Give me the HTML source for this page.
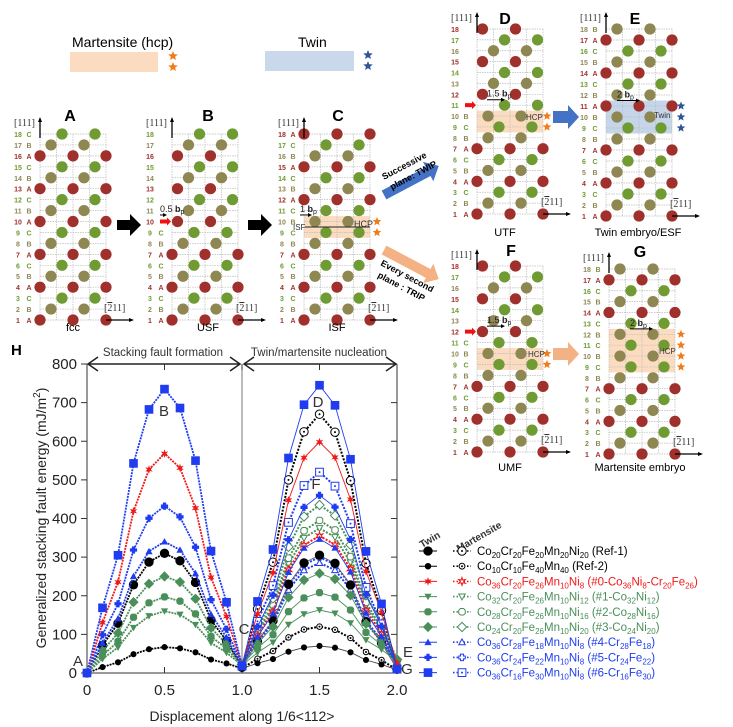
<!DOCTYPE html>
<html><head><meta charset="utf-8"><style>
html,body{margin:0;padding:0;background:#fff}
svg{display:block;font-family:"Liberation Sans",sans-serif}
</style></head><body>
<svg id="s" width="733" height="727" viewBox="0 0 733 727" xmlns="http://www.w3.org/2000/svg"></svg>
<script>
var S=document.getElementById('s'),o='';
function t(x,y,s,sz,c,extra){o+='<text x="'+x+'" y="'+y+'" font-size="'+sz+'" fill="'+(c||'#000')+'" '+(extra||'')+'>'+s+'</text>';}
function star(x,y,r,c){var p=[];for(var i=0;i<10;i++){var a=-Math.PI/2+i*Math.PI/5,rr=i%2?r*0.45:r;p.push((x+rr*Math.cos(a)).toFixed(1)+','+(y+rr*Math.sin(a)).toFixed(1));}o+='<polygon points="'+p.join(' ')+'" fill="'+c+'"/>';}
t(72,47,'Martensite (hcp)',14);o+='<rect x="70" y="52" width="88" height="20" fill="#fbdcc1"/>';star(173,56,5,'#f07c1a');star(173,67,5,'#f07c1a');
t(298,47,'Twin',14);o+='<rect x="265" y="51" width="89" height="20" fill="#c9d8ea"/>';star(368,55,5,'#2f5597');star(368,66,5,'#2f5597');
var COL=['#a0302c','#8e8752','#6f9b32'];
function panel(gx,y1,y18,labels,offs,title,tx,ty,cap,cx,cy,band,bc,nst,stc,stx,arrowRow,bp,bpx){
 var sp=(y1-y18)/17,u=11;
 if(band){o+='<rect x="'+gx+'" y="'+(y1-(band[1]-1)*sp-sp/2)+'" width="66" height="'+((band[1]-band[0]+1)*sp)+'" fill="'+bc+'"/>';}
 for(var r=0;r<18;r++){var y=y1-r*sp;o+='<line x1="'+gx+'" x2="'+(gx+66)+'" y1="'+y+'" y2="'+y+'" stroke="#bbb" stroke-width="0.7" stroke-dasharray="1.5,1"/>';}
 for(var k=0;k<=4;k++){var x=gx+k*16.5;o+='<line x1="'+x+'" x2="'+x+'" y1="'+y18+'" y2="'+y1+'" stroke="#bbb" stroke-width="0.7" stroke-dasharray="1.5,1"/>';}
 for(r=1;r<=18;r++){var y=y1-(r-1)*sp,of=offs(r),ci=Math.floor(of)%3;
  var lab=labels[r-1];var lc=lab&&lab!='-'?COL['ABC'.indexOf(lab)]:COL[ci];
  t(gx-22,y+3,r,7,lc,'font-weight="bold" text-anchor="middle"');
  if(lab&&lab!='-')t(gx-11,y+3,lab,7,lc,'font-weight="bold" text-anchor="middle"');
  for(var k=0;k<3;k++){var ox=of+3*k;if(ox>6.01)continue;o+='<circle cx="'+(gx+ox*u)+'" cy="'+y+'" r="5.6" fill="'+COL[ci]+'"/>';}}
 t(tx,ty,title,16,'#000','font-weight="bold" text-anchor="middle"');
 t(cx,cy,cap,11,'#000','text-anchor="middle"');
 t(gx-26,y18-8,'[111]',10,'#333','font-family="Liberation Serif"');
 o+='<line x1="'+gx+'" y1="'+(y18+4)+'" x2="'+gx+'" y2="'+(y18-15)+'" stroke="#000" stroke-width="1.3"/><polygon points="'+(gx-2)+','+(y18-12)+' '+(gx+2)+','+(y18-12)+' '+gx+','+(y18-17)+'" fill="#000"/>';
 t(gx+64,y1-9,'[<tspan text-decoration="overline">2</tspan>11]',10,'#333','font-family="Liberation Serif"');
 o+='<line x1="'+(gx+66)+'" y1="'+y1+'" x2="'+(gx+92)+'" y2="'+y1+'" stroke="#000" stroke-width="1.2"/><polygon points="'+(gx+89)+','+(y1-2)+' '+(gx+89)+','+(y1+2)+' '+(gx+94)+','+y1+'" fill="#000"/>';
 if(nst){for(var i=0;i<nst;i++)star(stx,y1-(band[0]-1)*sp-i*sp*(band[1]-band[0])/(nst-1),4.5,stc);}
 if(arrowRow){var ay=y1-(arrowRow-1)*sp;o+='<polygon points="'+(gx-12)+','+(ay-2)+' '+(gx-5)+','+(ay-2)+' '+(gx-5)+','+(ay-4)+' '+(gx-1)+','+ay+' '+(gx-5)+','+(ay+4)+' '+(gx-5)+','+(ay+2)+' '+(gx-12)+','+(ay+2)+'" fill="#f01010"/>';}
 if(bp){var by=y1-(bp[0]-1)*sp;t(bpx,by-3,bp[1]+' <tspan font-weight="bold">b</tspan><tspan font-size="7" dy="2">p</tspan>',9,'#222');o+='<line x1="'+(bpx)+'" y1="'+by+'" x2="'+(bpx+bp[2])+'" y2="'+by+'" stroke="#000" stroke-width="1"/><polygon points="'+(bpx+bp[2]-3)+','+(by-2)+' '+(bpx+bp[2]-3)+','+(by+2)+' '+(bpx+bp[2]+1)+','+by+'" fill="#000"/>';}
}
var ABC='ABCABCABCABCABCABC'.split('');
function std(r){return (r-1)%3;}
function fromLab(L){return function(r){return 'ABC'.indexOf(L[r-1]);};}
panel(40,320,134,ABC,std,'A',70,121,'fcc',73,331);
panel(172,320,134,'ABCABCABC---------'.split(''),function(r){return r>=10?((r-10)%3)+0.5:std(r);},'B',208,121,'USF',208,331,null,null,0,null,0,10,[10.6,'0.5',6],160);
var Cl='ABCABCABCBCABCABCA'.split('');
panel(304,320,134,Cl,fromLab(Cl),'C',338,121,'ISF',337,331,[9,10],'#fbdcc1',2,'#f07c1a',377,0,[10.6,'1',11],300);
t(293,230,'ISF',8,'#333');t(354,227,'HCP',9,'#333');o+='<line x1="305" y1="227" x2="370" y2="227" stroke="#222" stroke-width="1"/>';
panel(477,214,29,'ABCABCABCB--------'.split(''),function(r){return r>=11?(r==11?2.5:((r-12)%3)+0.5):fromLab('ABCABCABCB')(r);},'D',505,24,'UTF',505,236,[9,10],'#fbdcc1',2,'#f07c1a',547,11,[11.5,'1.5',17],487);
t(526,120,'HCP',8,'#333');
var El='ABCABCABCBABCABCAB'.split('');
panel(606,216,29,El,fromLab(El),'E',635,24,'Twin embryo/ESF',638,236,[9,11],'#c5d6ea',3,'#2f5597',681,0,[11.5,'2',22],617);
t(654,118,'Twin',8,'#333');
panel(477,452,266,'ABCABCABCBC-------'.split(''),function(r){return r>=12?((r-12)%3)+0.5:fromLab('ABCABCABCBC')(r);},'F',511,256,'UMF',510,471,[9,10],'#fbdcc1',2,'#f07c1a',547,12,[12.5,'1.5',17],487);
t(528,357,'HCP',8,'#333');
var Gl='ABCABCABCBCBCABCAB'.split('');
panel(609,454,269,Gl,fromLab(Gl),'G',640,257,'Martensite embryo',640,471,[9,12],'#fbdcc1',4,'#f07c1a',681,0,[12.5,'2',22],630);
t(659,354,'HCP',8,'#333');
function barrow(x,y){o+='<polygon points="'+x+','+(y-5)+' '+(x+13)+','+(y-5)+' '+(x+13)+','+(y-11)+' '+(x+24)+','+y+' '+(x+13)+','+(y+11)+' '+(x+13)+','+(y+5)+' '+x+','+(y+5)+'" fill="#000"/>';}
barrow(117,225);barrow(248,225);
function carrow(x,y,c){o+='<polygon points="'+x+','+(y-6)+' '+(x+15)+','+(y-6)+' '+(x+15)+','+(y-12)+' '+(x+26)+','+y+' '+(x+15)+','+(y+12)+' '+(x+15)+','+(y+6)+' '+x+','+(y+6)+'" fill="'+c+'"/>';}
carrow(553,117,'#4472c4');carrow(553,354,'#f4b183');
o+='<g transform="translate(384,195) rotate(-28)"><polygon points="0,-5 50,-5 50,-11 62,0 50,11 50,5 0,5" fill="#4472c4"/></g>';
o+='<g transform="translate(384,250) rotate(28)"><polygon points="0,-5 50,-5 50,-11 62,0 50,11 50,5 0,5" fill="#f4b183"/></g>';
t(0,0,'Successive',9,'#000','font-weight="bold" transform="translate(384,180) rotate(-28)"');
t(0,0,'plane: TWIP',9,'#000','font-weight="bold" transform="translate(392,190) rotate(-28)"');
t(0,0,'Every second',9,'#000','font-weight="bold" transform="translate(380,265) rotate(28)"');
t(0,0,'plane : TRIP',9,'#000','font-weight="bold" transform="translate(377,277) rotate(28)"');
function px(x){return 87+155*x;}function py(v){return 673-v*0.38625;}
t(11,355,'H',15,'#000','font-weight="bold"');
o+='<line x1="87" y1="364" x2="87" y2="673" stroke="#333" stroke-width="1"/><line x1="397" y1="364" x2="397" y2="673" stroke="#333" stroke-width="1"/><line x1="87" y1="673" x2="397" y2="673" stroke="#333"/><line x1="242" y1="364" x2="242" y2="673" stroke="#555" stroke-width="0.8"/>';
for(var v=0;v<=800;v+=100){var y=py(v);o+='<line x1="81" x2="87" y1="'+y+'" y2="'+y+'" stroke="#333"/><line x1="391" x2="397" y1="'+y+'" y2="'+y+'" stroke="#333"/>';t(77,y+5,v,15,'#222','text-anchor="end"');}
[[0,'0'],[0.5,'0.5'],[1,'1.0'],[1.5,'1.5'],[2,'2.0']].forEach(function(a){var x=px(a[0]);o+='<line x1="'+x+'" x2="'+x+'" y1="673" y2="667" stroke="#333"/><line x1="'+x+'" x2="'+x+'" y1="364" y2="370" stroke="#333"/>';t(x,695,a[1],15,'#222','text-anchor="middle"');});
t(242,721,'Displacement along 1/6&lt;112&gt;',14,'#222','text-anchor="middle"');
t(0,0,'Generalized stacking fault energy (mJ/m<tspan dy="-6" font-size="10">2</tspan><tspan dy="6">)</tspan>',14,'#222','text-anchor="middle" transform="translate(46,518) rotate(-90)"');
o+='<line x1="88" y1="364" x2="240" y2="364" stroke="#222" stroke-width="1.5"/><line x1="244" y1="364" x2="396" y2="364" stroke="#222" stroke-width="1.5"/>';
o+='<polyline points="98,357 88,364 98,371" fill="none" stroke="#222" stroke-width="1.5"/><polyline points="230,357 240,364 230,371" fill="none" stroke="#222" stroke-width="1.5"/><polyline points="254,357 244,364 254,371" fill="none" stroke="#222" stroke-width="1.5"/><polyline points="386,357 396,364 386,371" fill="none" stroke="#222" stroke-width="1.5"/>';
t(163,356,'Stacking fault formation',11.5,'#333','text-anchor="middle"');t(319,356,'Twin/martensite nucleation',11.5,'#333','text-anchor="middle"');
function mk(type,x,y,c,open,sz){sz=sz||1;var f=open?'#fff':c,st=open?' stroke="'+c+'" stroke-width="1"':'';var r=3.6*sz;
 if(type=='o')return '<circle cx="'+x+'" cy="'+y+'" r="'+r+'" fill="'+f+'"'+st+'/>'+(open?'<circle cx="'+x+'" cy="'+y+'" r="1" fill="'+c+'"/>':'');
 if(type=='s')return '<rect x="'+(x-r)+'" y="'+(y-r)+'" width="'+2*r+'" height="'+2*r+'" fill="'+f+'"'+st+'/>'+(open?'<circle cx="'+x+'" cy="'+y+'" r="1" fill="'+c+'"/>':'');
 if(type=='d')return '<polygon points="'+x+','+(y-r*1.3)+' '+(x+r*1.3)+','+y+' '+x+','+(y+r*1.3)+' '+(x-r*1.3)+','+y+'" fill="'+f+'"'+st+'/>';
 if(type=='v')return '<polygon points="'+(x-r)+','+(y-r*0.8)+' '+(x+r)+','+(y-r*0.8)+' '+x+','+(y+r)+'" fill="'+f+'"'+st+'/>';
 if(type=='^')return '<polygon points="'+(x-r)+','+(y+r*0.8)+' '+(x+r)+','+(y+r*0.8)+' '+x+','+(y-r)+'" fill="'+f+'"'+st+'/>';
 if(type=='x')return '<polygon points="'+(x-r*0.5)+','+(y-r)+' '+(x+r*0.5)+','+(y-r)+' '+(x+r)+','+(y-r*0.5)+' '+(x+r)+','+(y+r*0.5)+' '+(x+r*0.5)+','+(y+r)+' '+(x-r*0.5)+','+(y+r)+' '+(x-r)+','+(y+r*0.5)+' '+(x-r)+','+(y-r*0.5)+'" fill="'+f+'"'+st+'/>';
 if(type=='+')return '<path d="M'+(x-r*0.45)+','+(y-r)+'h'+r*0.9+'v'+r*0.55+'h'+r*0.55+'v'+r*0.9+'h-'+r*0.55+'v'+r*0.55+'h-'+r*0.9+'v-'+r*0.55+'h-'+r*0.55+'v-'+r*0.9+'h'+r*0.55+'z" fill="'+f+'"'+st+'/>';
 if(type=='*'){var p=[];for(var i=0;i<12;i++){var a=-Math.PI/2+i*Math.PI/6,rr=i%2?r*0.5:r*1.2;p.push((x+rr*Math.cos(a)).toFixed(1)+','+(y+rr*Math.sin(a)).toFixed(1));}return '<polygon points="'+p.join(' ')+'" fill="'+f+'"'+st+'/>';}
}
var R=[0,.23,.415,.74,.93,1,.93,.74,.415,.23,0];
function curve(x0,s,e,P){var pts=[];for(var i=0;i<=10;i++){var tt=i/10,b=s+(e-s)*tt;pts.push([x0+tt,b+(P-(s+e)/2)*R[i]]);}return pts;}
function draw(pts,c,type,dash,w,open,sz,lc){o+='<polyline points="'+pts.map(function(p){return px(p[0]).toFixed(1)+','+py(p[1]).toFixed(1);}).join(' ')+'" fill="none" stroke="'+(lc||c)+'" stroke-width="'+w+'" '+(dash?'stroke-dasharray="'+dash+'"':'')+'/>';pts.forEach(function(p){o+=mk(type,px(p[0]),py(p[1]),c,open,sz);});}
var G='#4a8f5a',B='#1f3cf0',Rd='#f01818';
var ser=[
 ['#000','o',310,305,670,1.3,15,10,'#666'],
 ['#000','o',67,70,120,0.85,12,8,'#444'],
 [G,'v',160,163,375,1,20,30],
 [G,'x',197,208,395,1,22,32],
 [G,'d',250,258,435,1.1,22,35],
 [B,'^',340,347,285,1,18,20],
 [B,'+',432,460,300,1,18,20],
 [Rd,'*',568,598,355,1,20,25],
 [B,'s',735,745,520,1.2,18,10]
];
ser.forEach(function(s){draw(curve(1,s[6],s[7],s[4]),s[0],s[1],'2,1.5',2,true,s[5]*0.9);});
ser.forEach(function(s){draw(curve(0,0,s[6],s[2]),s[0],s[1],'2,1',1.8,false,s[5]);draw(curve(1,s[6],s[7],s[3]),s[0],s[1],null,0.9,false,s[5],s[8]);});
[['A',78,666],['B',164,416],['C',244,634],['D',318,407],['F',316,489],['E',408,657],['G',407,674]].forEach(function(a){t(a[1],a[2],a[0],15,'#333','text-anchor="middle"');});
t(0,0,'Twin',10,'#333','font-weight="bold" transform="translate(422,548) rotate(-30)"');
t(0,0,'Martensite',10,'#333','font-weight="bold" transform="translate(459,552) rotate(-30)"');
var L=[['#000','o',1.3,'Co|20|Cr|20|Fe|20|Mn|20|Ni|20| (Ref-1)'],
['#000','o',0.9,'Co|10|Cr|10|Fe|40|Mn|40| (Ref-2)'],
[Rd,'*',1,'Co|36|Cr|20|Fe|26|Mn|10|Ni|8| (#0-Co|36|Ni|8|-Cr|20|Fe|26|)'],
[G,'v',1,'Co|32|Cr|20|Fe|26|Mn|10|Ni|12| (#1-Co|32|Ni|12|)'],
[G,'x',1,'Co|28|Cr|20|Fe|26|Mn|10|Ni|16| (#2-Co|28|Ni|16|)'],
[G,'d',1.1,'Co|24|Cr|20|Fe|26|Mn|10|Ni|20| (#3-Co|24|Ni|20|)'],
[B,'^',1,'Co|36|Cr|28|Fe|18|Mn|10|Ni|8| (#4-Cr|28|Fe|18|)'],
[B,'+',1,'Co|36|Cr|24|Fe|22|Mn|10|Ni|8| (#5-Cr|24|Fe|22|)'],
[B,'s',1.2,'Co|36|Cr|16|Fe|30|Mn|10|Ni|8| (#6-Cr|16|Fe|30|)']];
L.forEach(function(l,i){var y=551+i*15.2;
 o+='<line x1="419" x2="437" y1="'+y+'" y2="'+y+'" stroke="'+l[0]+'" stroke-width="1"/>'+mk(l[1],428,y,l[0],false,l[2]);
 o+='<line x1="453" x2="471" y1="'+y+'" y2="'+y+'" stroke="'+l[0]+'" stroke-width="1.6" stroke-dasharray="1.5,2"/>'+mk(l[1],462,y,l[0],true,l[2]*0.9);
 var parts=l[3].split('|'),h='';parts.forEach(function(p,j){h+=j%2?'<tspan font-size="8" dy="3">'+p+'</tspan>':'<tspan dy="'+(j?-3:0)+'">'+p+'</tspan>';});
 t(477,y+4,h,11.5,l[0]);});
S.innerHTML=o;
</script>
</body></html>
